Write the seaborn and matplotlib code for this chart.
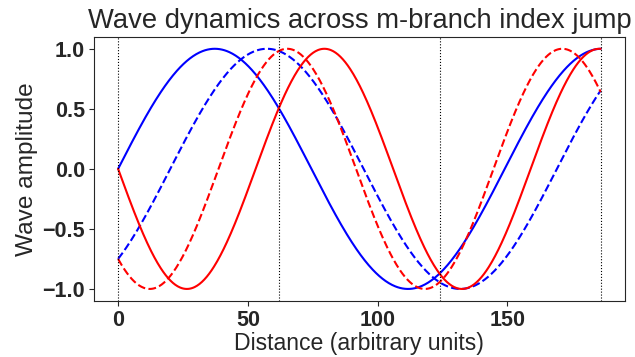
import numpy as np
import pandas as pd
import matplotlib
matplotlib.use("Agg")
import matplotlib.pyplot as plt
import seaborn as sns

# Wave parameters for each branch: wavelength (arbitrary units) and phase (rad)
labels = ["m=1 solid", "m=1 dashed", "m=2 solid", "m=2 dashed"]
wavelengths = [149.0, 149.0, 106.0, 106.0]
phases = [0.0, -0.848, np.pi, np.pi + 0.848]
colors = ["blue", "blue", "red", "red"]
styles = ["-", "--", "-", "--"]

# Section boundaries where the index jumps
boundaries = [0, 62, 124, 186]
x_end = 186.0

sns.set_style("ticks")
plt.rcParams["font.family"] = ["Liberation Sans", "DejaVu Sans"]

x = np.linspace(0, x_end, 600)
frames = []
for lab, lam, ph in zip(labels, wavelengths, phases):
    frames.append(pd.DataFrame({"x": x,
                                "y": np.sin(2 * np.pi * x / lam + ph),
                                "curve": lab}))
df = pd.concat(frames, ignore_index=True)

fig, ax = plt.subplots(figsize=(6.35, 3.57), dpi=100)
for lab, c, ls in zip(labels, colors, styles):
    sub = df[df["curve"] == lab]
    sns.lineplot(data=sub, x="x", y="y", ax=ax, color=c, linestyle=ls,
                 linewidth=1.5, legend=False)

for b in boundaries:
    ax.axvline(b, color="black", linestyle=":", linewidth=0.8)

ax.set_title("Wave dynamics across m-branch index jump", fontsize=19.7)
ax.set_xlabel("Distance (arbitrary units)", fontsize=16.6, labelpad=0.5)
ax.set_ylabel("Wave amplitude", fontsize=17.6, labelpad=3)
ax.set_xticks([0, 50, 100, 150])
ax.set_yticks([-1.0, -0.5, 0.0, 0.5, 1.0])
for t in ax.get_xticklabels() + ax.get_yticklabels():
    t.set_fontweight("bold")
    t.set_fontsize(15.5)
ax.tick_params(length=3.5, pad=3)

fig.subplots_adjust(left=0.148, right=0.984, top=0.897, bottom=0.157)
fig.savefig("out.png", dpi=100)
